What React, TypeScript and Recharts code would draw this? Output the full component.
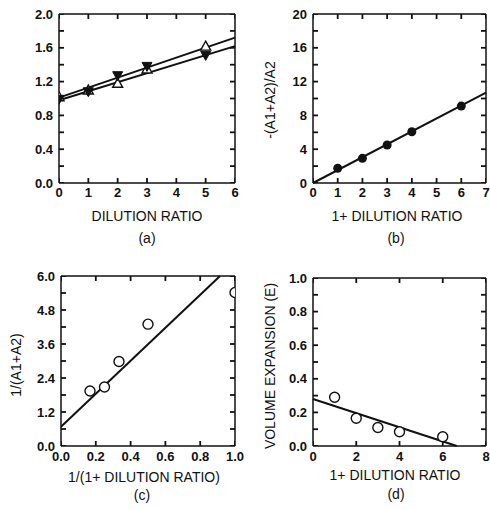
import React from 'react'
import { ScatterChart, Scatter, XAxis, YAxis, ReferenceLine } from 'recharts'

const W = 245
const H = 255
const INK = '#111'
const FONT = '"Liberation Sans", Arial, Helvetica, sans-serif'
const TICK_LEN = 5

// (a) scale-up vs dilution ratio
const A_X = [0, 1, 2, 3, 5]
const A_UP = [1.02, 1.1, 1.18, 1.35, 1.62]
const A_DOWN = [0.99, 1.08, 1.27, 1.38, 1.51]
const A_FIT_X = [0, 6]
const A_FIT_UP = [1.01, 1.72]
const A_FIT_DOWN = [0.98, 1.62]
const A_X_TICKS = [0, 1, 2, 3, 4, 5, 6]
const A_Y_TICKS = [0, 0.2, 0.4, 0.6, 0.8, 1.0, 1.2, 1.4, 1.6, 1.8, 2.0]
const A_Y_LABELS = [0, 0.4, 0.8, 1.2, 1.6, 2.0]

// (b) -(A1+A2)/A2
const B_X = [1, 2, 3, 4, 6]
const B_Y = [1.74, 2.92, 4.5, 6.07, 9.1]
const B_FIT_X = [0, 7]
const B_FIT_Y = [0, 10.7]
const B_X_TICKS = [0, 1, 2, 3, 4, 5, 6, 7]
const B_Y_TICKS = [0, 2, 4, 6, 8, 10, 12, 14, 16, 18, 20]
const B_Y_LABELS = [0, 4, 8, 12, 16, 20]

// (c) 1/(A1+A2)
const C_X = [1 / 6, 0.25, 1 / 3, 0.5, 1.0]
const C_Y = [1.94, 2.08, 2.98, 4.3, 5.42]
const C_FIT_X = [0, 0.914]
const C_FIT_Y = [0.68, 6.0]
const C_X_TICKS = [0, 0.2, 0.4, 0.6, 0.8, 1.0]
const C_Y_TICKS = [0, 0.6, 1.2, 1.8, 2.4, 3.0, 3.6, 4.2, 4.8, 5.4, 6.0]
const C_Y_LABELS = [0, 1.2, 2.4, 3.6, 4.8, 6.0]

// (d) volume expansion
const D_X = [1, 2, 3, 4, 6]
const D_Y = [0.29, 0.165, 0.11, 0.085, 0.055]
const D_FIT_X = [0, 6.65]
const D_FIT_Y = [0.28, 0]
const D_X_TICKS = [0, 2, 4, 6, 8]
const D_Y_TICKS = [0, 0.1, 0.2, 0.3, 0.4, 0.5, 0.6, 0.7, 0.8, 0.9, 1.0]
const D_Y_LABELS = [0, 0.2, 0.4, 0.6, 0.8, 1.0]

const pts = (xs: number[], ys: number[]) => xs.map((x, i) => ({ x, y: ys[i] }))

const fmt = (labels: number[] | null, digits: number) => (v: number) =>
  labels && !labels.some((l) => Math.abs(l - v) < 1e-9) ? '' : v.toFixed(digits)

const lineStyle = { stroke: INK, strokeWidth: 1.5 }
const tickStyle = { fill: INK, fontSize: 13, fontWeight: 'bold', fontFamily: FONT }

const upTri = (p: any) => (
  <path d={`M${p.cx},${p.cy - 5}L${p.cx + 5},${p.cy + 4}L${p.cx - 5},${p.cy + 4}Z`} fill="#fff" stroke={INK} strokeWidth={1.4} />
)
const downTri = (p: any) => (
  <path d={`M${p.cx},${p.cy + 5}L${p.cx + 5},${p.cy - 4}L${p.cx - 5},${p.cy - 4}Z`} fill={INK} stroke={INK} strokeWidth={1} />
)
const dot = (p: any) => <circle cx={p.cx} cy={p.cy} r={4.5} fill={INK} />
const ring = (p: any) => <circle cx={p.cx} cy={p.cy} r={5} fill="#fff" stroke={INK} strokeWidth={1.4} />

// a short stroke pointing into the frame from the scaled tick position
const tickMark = (ddx: number, ddy: number) => (p: any) => (
  <path d={`M${p.cx},${p.cy}l${ddx * TICK_LEN},${ddy * TICK_LEN}`} stroke={INK} strokeWidth={1.8} fill="none" />
)

type AxisCfg = { domain: [number, number]; ticks: number[]; labels: number[] | null; digits: number }

const Panel = ({ left, top, plot, xa, ya, labelGap, children }: any) => {
  const x: AxisCfg = xa
  const y: AxisCfg = ya
  const [x0, x1] = x.domain
  const [y0, y1] = y.domain
  return (
    <div style={{ position: 'absolute', left, top }}>
      <ScatterChart
        width={W}
        height={H}
        margin={{ top: plot.t, right: W - plot.r, left: 0, bottom: 0 }}
      >
        <XAxis
          type="number"
          dataKey="x"
          domain={x.domain}
          ticks={x.ticks}
          interval={0}
          allowDataOverflow
          tickFormatter={fmt(x.labels, x.digits)}
          height={H - plot.b}
          tickSize={0}
          tickMargin={labelGap}
          axisLine={lineStyle}
          tickLine={false}
          tick={tickStyle}
        />
        <XAxis xAxisId="top" orientation="top" mirror type="number" domain={x.domain}
          tick={false} tickLine={false} axisLine={lineStyle} />
        <YAxis
          type="number"
          dataKey="y"
          domain={y.domain}
          ticks={y.ticks}
          interval={0}
          allowDataOverflow
          tickFormatter={fmt(y.labels, y.digits)}
          width={plot.l}
          tickSize={0}
          tickMargin={6}
          axisLine={lineStyle}
          tickLine={false}
          tick={tickStyle}
        />
        <YAxis yAxisId="right" orientation="right" mirror type="number" domain={y.domain}
          tick={false} tickLine={false} axisLine={lineStyle} />
        <Scatter data={x.ticks.map((t) => ({ x: t, y: y0 }))} shape={tickMark(0, -1)} isAnimationActive={false} />
        <Scatter data={x.ticks.map((t) => ({ x: t, y: y1 }))} shape={tickMark(0, 1)} isAnimationActive={false} />
        <Scatter data={y.ticks.map((t) => ({ x: x0, y: t }))} shape={tickMark(1, 0)} isAnimationActive={false} />
        <Scatter data={y.ticks.map((t) => ({ x: x1, y: t }))} shape={tickMark(-1, 0)} isAnimationActive={false} />
        {children}
      </ScatterChart>
    </div>
  )
}

const fit = (xs: number[], ys: number[]) => (
  <ReferenceLine
    segment={[{ x: xs[0], y: ys[0] }, { x: xs[1], y: ys[1] }]}
    stroke={INK}
    strokeWidth={2}
    ifOverflow="visible"
  />
)

const Txt = ({ x, y, size = 14, rotate = false, children }: any) => (
  <div
    style={{
      position: 'absolute',
      left: x,
      top: y,
      transform: `translate(-50%, -50%)${rotate ? ' rotate(-90deg)' : ''}`,
      whiteSpace: 'nowrap',
      fontFamily: FONT,
      fontSize: size,
      color: INK,
      lineHeight: 1,
    }}
  >
    {children}
  </div>
)

const App = () => (
  <div style={{ position: 'absolute', left: 0, top: 0, width: 490, height: 510, background: '#fff' }}>
    <Panel
      left={0}
      top={0}
      plot={{ l: 59, t: 14, r: 235, b: 183 }}
      labelGap={5}
      xa={{ domain: [0, 6], ticks: A_X_TICKS, labels: null, digits: 0 }}
      ya={{ domain: [0, 2], ticks: A_Y_TICKS, labels: A_Y_LABELS, digits: 1 }}
    >
      {fit(A_FIT_X, A_FIT_UP)}
      {fit(A_FIT_X, A_FIT_DOWN)}
      <Scatter data={pts(A_X, A_UP)} shape={upTri} isAnimationActive={false} />
      <Scatter data={pts(A_X, A_DOWN)} shape={downTri} isAnimationActive={false} />
    </Panel>
    <Panel
      left={245}
      top={0}
      plot={{ l: 68, t: 14, r: 241, b: 183 }}
      labelGap={5}
      xa={{ domain: [0, 7], ticks: B_X_TICKS, labels: null, digits: 0 }}
      ya={{ domain: [0, 20], ticks: B_Y_TICKS, labels: B_Y_LABELS, digits: 0 }}
    >
      {fit(B_FIT_X, B_FIT_Y)}
      <Scatter data={pts(B_X, B_Y)} shape={dot} isAnimationActive={false} />
    </Panel>
    <Panel
      left={0}
      top={255}
      plot={{ l: 61, t: 21, r: 235, b: 191 }}
      labelGap={6}
      xa={{ domain: [0, 1], ticks: C_X_TICKS, labels: null, digits: 1 }}
      ya={{ domain: [0, 6], ticks: C_Y_TICKS, labels: C_Y_LABELS, digits: 1 }}
    >
      {fit(C_FIT_X, C_FIT_Y)}
      <Scatter data={pts(C_X, C_Y)} shape={ring} isAnimationActive={false} />
    </Panel>
    <Panel
      left={245}
      top={255}
      plot={{ l: 68, t: 23, r: 241, b: 191 }}
      labelGap={6}
      xa={{ domain: [0, 8], ticks: D_X_TICKS, labels: null, digits: 0 }}
      ya={{ domain: [0, 1], ticks: D_Y_TICKS, labels: D_Y_LABELS, digits: 1 }}
    >
      {fit(D_FIT_X, D_FIT_Y)}
      <Scatter data={pts(D_X, D_Y)} shape={ring} isAnimationActive={false} />
    </Panel>

    <Txt x={147} y={216}>DILUTION RATIO</Txt>
    <Txt x={147} y={238}>(a)</Txt>

    <Txt x={397} y={216}>1+ DILUTION RATIO</Txt>
    <Txt x={396} y={238}>(b)</Txt>
    <Txt x={270} y={100} rotate>-(A1+A2)/A2</Txt>

    <Txt x={144} y={477}>1/(1+ DILUTION RATIO)</Txt>
    <Txt x={142} y={495}>(c)</Txt>
    <Txt x={16} y={365} rotate>1/(A1+A2)</Txt>

    <Txt x={395} y={475}>1+ DILUTION RATIO</Txt>
    <Txt x={396} y={494}>(d)</Txt>
    <Txt x={270} y={366} rotate>VOLUME EXPANSION (E)</Txt>
  </div>
)

export default App
